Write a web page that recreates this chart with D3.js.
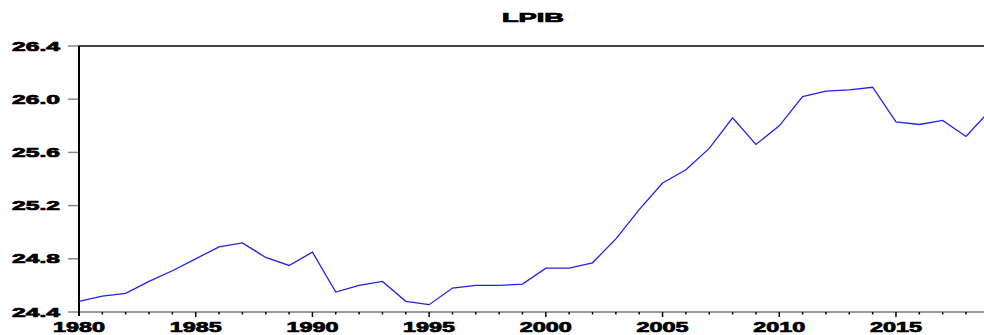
<!DOCTYPE html>
<html>
<head>
<meta charset="utf-8">
<script src="https://cdn.jsdelivr.net/npm/d3@7"></script>
<style>
  html, body { margin: 0; padding: 0; background: #fff; overflow: hidden; }
  svg { display: block; }
  .lbl { font-family: "Liberation Sans", Arial, sans-serif; font-weight: bold; fill: #000;
         stroke: #000; stroke-width: 0.7px; }
</style>
</head>
<body>
<svg id="chart" width="984" height="335"></svg>
<script>
// Annual series, 1980-2019
const years = d3.range(1980, 2020);
const lpib = [
  24.48, 24.52, 24.54, 24.63, 24.71, 24.80, 24.89, 24.92, 24.81, 24.75,
  24.85, 24.55, 24.60, 24.63, 24.48, 24.455, 24.58, 24.60, 24.60, 24.61,
  24.73, 24.73, 24.77, 24.95, 25.17, 25.37, 25.47, 25.63, 25.86, 25.66,
  25.80, 26.02, 26.06, 26.07, 26.09, 25.83, 25.81, 25.84, 25.72, 25.91
];
const yTicks = [24.4, 24.8, 25.2, 25.6, 26.0, 26.4];
const xLabelYears = [1980, 1985, 1990, 1995, 2000, 2005, 2010, 2015];
const title = "LPIB";

const svg = d3.select("#chart");
const plotLeft = 79, plotTop = 46, plotBottom = 312;

const x = d3.scaleLinear().domain([1980, 2018]).range([plotLeft, 966]);
const y = d3.scaleLinear().domain([24.4, 26.4]).range([plotBottom, plotTop]);

// Title
svg.append("text").attr("class", "lbl")
  .attr("x", 502).attr("y", 22)
  .attr("font-size", 12.5)
  .attr("textLength", 62).attr("lengthAdjust", "spacingAndGlyphs")
  .text(title);

// Frame: top border and bottom axis line
svg.append("line").attr("x1", plotLeft).attr("x2", 984).attr("y1", plotTop).attr("y2", plotTop)
  .attr("stroke", "#444").attr("stroke-width", 2);
svg.append("line").attr("x1", plotLeft).attr("x2", 984).attr("y1", plotBottom).attr("y2", plotBottom)
  .attr("stroke", "#777").attr("stroke-width", 1.5);

// Y ticks and labels
const yg = svg.append("g");
yg.selectAll("line").data(yTicks).join("line")
  .attr("x1", 68).attr("x2", plotLeft).attr("y1", d => y(d)).attr("y2", d => y(d))
  .attr("stroke", "#888").attr("stroke-width", 1.5);
yg.selectAll("text").data(yTicks).join("text").attr("class", "lbl")
  .attr("x", 12).attr("y", d => y(d) + 4.5)
  .attr("font-size", 12.5)
  .attr("textLength", 48).attr("lengthAdjust", "spacingAndGlyphs")
  .text(d => d.toFixed(1));

// X ticks: minor every year, major every five years
const xg = svg.append("g");
xg.selectAll("line").data(years.slice(1)).join("line")
  .attr("x1", d => x(d)).attr("x2", d => x(d))
  .attr("y1", plotBottom).attr("y2", d => d % 5 === 0 ? plotBottom + 5 : plotBottom + 2.5)
  .attr("stroke", "#000").attr("stroke-width", 1.5);
xg.selectAll("text").data(xLabelYears).join("text").attr("class", "lbl")
  .attr("x", d => x(d) - 26).attr("y", 332)
  .attr("font-size", 14)
  .attr("textLength", 52).attr("lengthAdjust", "spacingAndGlyphs")
  .text(d => d);

// Left axis
svg.append("line").attr("x1", plotLeft).attr("x2", plotLeft).attr("y1", plotTop).attr("y2", plotBottom + 4)
  .attr("stroke", "#000").attr("stroke-width", 2);

// Series line
const line = d3.line().x((d, i) => x(years[i])).y(d => y(d));
svg.append("path").datum(lpib)
  .attr("d", line)
  .attr("fill", "none")
  .attr("stroke", "#2222e6")
  .attr("stroke-width", 1.3);
</script>
</body>
</html>
